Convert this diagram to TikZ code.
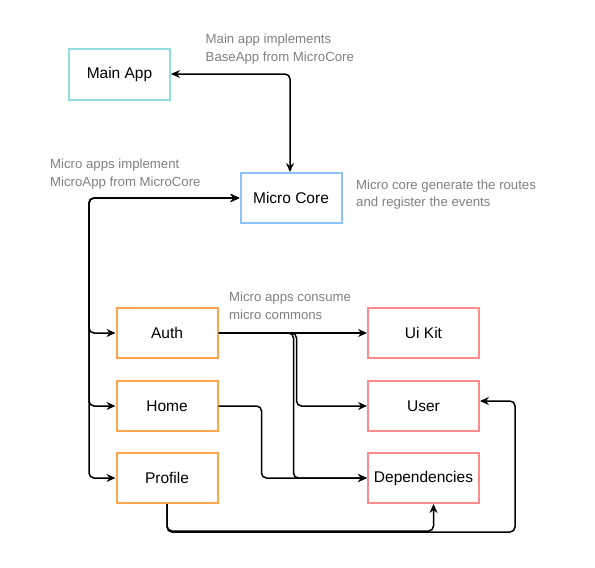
\documentclass[tikz,border=0pt]{standalone}
\usepackage{fontspec}
\setmainfont{Liberation Sans}
\usetikzlibrary{arrows.meta}

\definecolor{maincol}{HTML}{8FDDE0}
\definecolor{corecol}{HTML}{8CC4FF}
\definecolor{appcol}{HTML}{FFA64D}
\definecolor{commoncol}{HTML}{FF8A8E}
\definecolor{notecol}{HTML}{808080}

\begin{document}
\begin{tikzpicture}[x=1pt, y=-1pt,
		box/.style={draw, line width=2pt, minimum height=50pt, inner sep=0pt,
			font=\fontsize{15.5}{18}\selectfont},
		note/.style={anchor=west, align=left, inner sep=0pt, text=notecol,
			font=\fontsize{13.2}{17.5}\selectfont},
		link/.style={line width=1.5pt, rounded corners=5pt,
			>={Stealth[length=9pt, width=8pt, inset=3pt]}}]
			\useasboundingbox (0,0) rectangle (595,568);

			% Draw the boxes
			\node[box, draw=maincol, minimum width=101pt, minimum height=51pt] (mainapp) at (119.5,74) {Main App};
			\node[box, draw=corecol, minimum width=101pt] (microcore) at (291,198) {Micro Core};
			\node[box, draw=appcol, minimum width=101pt] (auth) at (167,333) {Auth};
			\node[box, draw=appcol, minimum width=101pt] (home) at (167,406) {Home};
			\node[box, draw=appcol, minimum width=101pt] (profile) at (167,478) {Profile};
			\node[box, draw=commoncol, minimum width=111pt] (uikit) at (423.5,333) {Ui Kit};
			\node[box, draw=commoncol, minimum width=111pt] (user) at (423.5,406) {User};
			\node[box, draw=commoncol, minimum width=111pt] (deps) at (423.5,478) {Dependencies};

			% Draw the notes
			\node[note] (notemain) at (205.5,49.3) {Main app implements\\BaseApp from MicroCore};
			\node[note] (notemicro) at (50,174) {Micro apps implement\\MicroApp from MicroCore};
			\node[note] (notecore) at (356,194.4) {Micro core generate the routes\\and register the events};
			\node[note] (notecommons) at (229,306) {Micro apps consume\\micro commons};

			% Main app and micro core
			\draw[link, <->] (mainapp.east) -| ([xshift=-1pt]microcore.north);

			% Micro apps to micro core
			\coordinate (trunk) at (89,198);
			\foreach \m in {auth,home,profile}
				\draw[link, <->] (microcore.west) -- (trunk) |- (\m.west);

			% Micro apps to micro commons
			\draw[link, ->] (auth.east) -- (uikit.west);
			\draw[link, ->] (auth.east) -- ++(78,0) |- (user.west);
			\draw[link, ->] (auth.east) -- ++(75,0) |- (deps.west);
			\draw[link, ->] (home.east) -- ++(43,0) |- (deps.west);
			\draw[link, ->] (profile.south) -- ++(0,27) -| ([xshift=10pt]deps.south);
			\coordinate (loop) at (515,532);
			\draw[link, ->] (profile.south) |- (loop) |- ([yshift=5pt]user.east);
		\end{tikzpicture}
\end{document}
